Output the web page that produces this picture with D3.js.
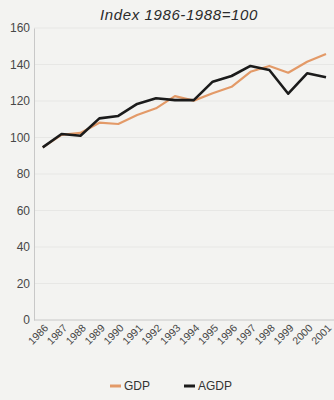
<!DOCTYPE html>
<html><head><meta charset="utf-8">
<script src="https://cdn.jsdelivr.net/npm/d3@7"></script>
<style>body{margin:0;background:#f3f3f1;}svg{display:block;}</style>
</head><body>
<svg id="c" width="334" height="400"></svg>
<script>
const years = [1986,1987,1988,1989,1990,1991,1992,1993,1994,1995,1996,1997,1998,1999,2000,2001];
const gdp  = [94.6,101.4,102.5,108.1,107.4,112.3,116,122.7,120.2,124.2,127.8,136,139.2,135.5,141.5,145.8];
const agdp = [94.6,101.9,101,110.5,111.8,118.4,121.5,120.5,120.5,130.6,133.7,139.2,137,124,135.2,133];
const yTicks = [0,20,40,60,80,100,120,140,160];
const title = "Index 1986-1988=100";
const seriesNames = ["GDP","AGDP"];
const colors = ["#e39a68","#1b1b1b"];

const svg = d3.select("#c");
const x = d3.scaleLinear().domain([1986,2001]).range([42.7,326]);
const y = d3.scaleLinear().domain([0,160]).range([320,28]);

svg.append("rect").attr("width",334).attr("height",400).attr("fill","#f3f3f1");

svg.append("text").attr("x",179).attr("y",20).attr("text-anchor","middle")
  .attr("font-family","Liberation Sans, Arial, sans-serif").attr("font-style","italic")
  .attr("font-size",15).attr("letter-spacing",0.6).attr("fill","#2a2a2a").text(title);

// gridlines
svg.append("g").selectAll("line").data(yTicks.slice(1)).join("line")
  .attr("x1",34).attr("x2",334).attr("y1",d=>y(d)).attr("y2",d=>y(d))
  .attr("stroke","#e7e7e5").attr("stroke-width",1);

const yAxis = svg.append("g").attr("transform","translate(34,0)")
  .call(d3.axisLeft(y).tickValues(yTicks).tickSize(0).tickPadding(4));
yAxis.select(".domain").attr("stroke","#c8c8c8");
yAxis.selectAll("text").attr("font-family","Liberation Sans, Arial, sans-serif").attr("font-size",12).attr("fill","#474747");

const xAxis = svg.append("g").attr("transform","translate(0,320)")
  .call(d3.axisBottom(x).tickValues(years).tickFormat(d3.format("d")).tickSize(0).tickPadding(3));
xAxis.select(".domain").attr("stroke","#c8c8c8").attr("d","M34,0H334");
xAxis.selectAll("text").attr("font-family","Liberation Sans, Arial, sans-serif").attr("font-size",10.5).attr("fill","#474747")
  .attr("text-anchor","end").attr("transform","translate(1,4) rotate(-45)").attr("dy","0.35em");

const line = d3.line().x((d,i)=>x(years[i])).y(d=>y(d));
[gdp,agdp].forEach((s,k)=>{
  svg.append("path").datum(s).attr("d",line).attr("fill","none")
    .attr("stroke",colors[k]).attr("stroke-width",k===0?2.2:2.6).attr("stroke-linejoin","round");
});

// legend
const lg = svg.append("g").attr("font-family","Liberation Sans, Arial, sans-serif").attr("font-size",12).attr("fill","#333");
const lx = [110,184];
seriesNames.forEach((n,k)=>{
  lg.append("line").attr("x1",lx[k]).attr("x2",lx[k]+11).attr("y1",386).attr("y2",386)
    .attr("stroke",colors[k]).attr("stroke-width",3);
  lg.append("text").attr("x",lx[k]+14).attr("y",390).text(n);
});
</script>
</body></html>
